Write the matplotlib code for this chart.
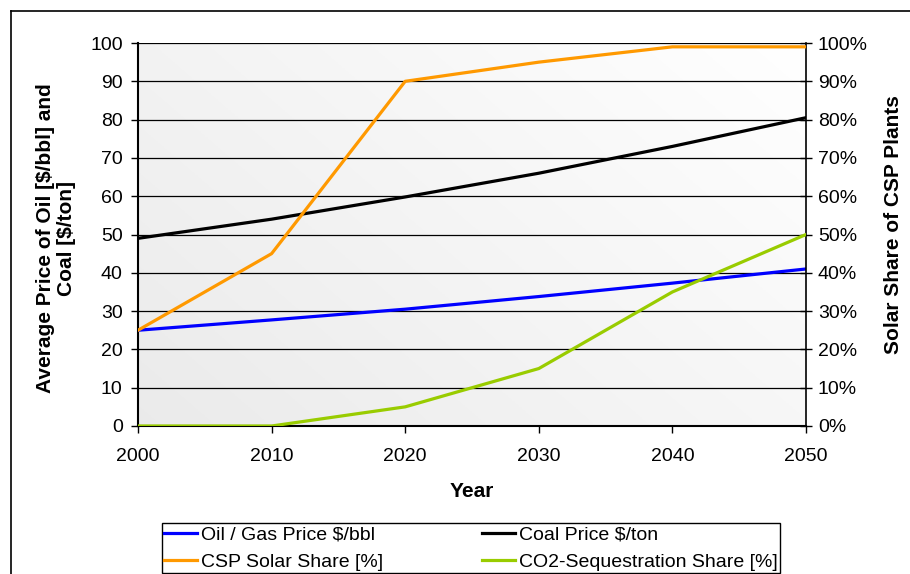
import matplotlib
matplotlib.use("Agg")
import matplotlib.pyplot as plt
import numpy as np
from matplotlib.lines import Line2D
from matplotlib.ticker import FuncFormatter

plt.rcParams['font.family'] = ['Liberation Sans', 'DejaVu Sans']

years = [2000, 2010, 2020, 2030, 2040, 2050]
oil_price = [25, 27.7, 30.5, 33.8, 37.3, 41]
coal_price = [49, 54, 59.8, 66, 73, 80.5]
csp_share = [25, 45, 90, 95, 99, 99]
co2_share = [0, 0, 5, 15, 35, 50]

labels = ["Oil / Gas Price $/bbl", "Coal Price $/ton",
          "CSP Solar Share [%]", "CO2-Sequestration Share [%]"]

W, H = 910, 574
FS = 14
LFS = 15
fig = plt.figure(figsize=(W / 100, H / 100), dpi=100)
ax = fig.add_axes([138 / W, 1 - 426 / H, 668 / W, 383 / H])

# gradient background
g = np.linspace(0, 1, 200)
gx, gy = np.meshgrid(g, g)
val = 0.92 + 0.08 * (0.6 * gx + 0.4 * gy)
ax.imshow(np.dstack([val, val, val]), extent=[0, 1, 0, 1], transform=ax.transAxes,
          aspect='auto', origin='lower', zorder=0)

ax.set_xlim(2000, 2050)
ax.set_ylim(0, 100)
ax.set_yticks(range(0, 101, 10))
ax.set_xticks(years)
for v in range(10, 101, 10):
    ax.axhline(v, color='black', lw=0.9, zorder=1)

l1, = ax.plot(years, oil_price, color='#0000ff', lw=2.3, zorder=3)
l2, = ax.plot(years, coal_price, color='black', lw=2.3, zorder=3)

ax2 = ax.twinx()
ax2.set_ylim(0, 100)
ax2.set_yticks(range(0, 101, 10))
ax2.yaxis.set_major_formatter(FuncFormatter(lambda v, p: f"{int(v)}%"))
l3, = ax2.plot(years, csp_share, color='#ff9900', lw=2.3, zorder=3)
l4, = ax2.plot(years, co2_share, color='#99cc00', lw=2.3, zorder=3)

for a in (ax, ax2):
    a.spines['top'].set_visible(False)
ax.spines['right'].set_visible(False)
ax.spines['left'].set_linewidth(1.5)
ax.spines['bottom'].set_linewidth(1.5)
ax2.spines['left'].set_visible(False)
ax2.spines['bottom'].set_visible(False)
ax2.spines['right'].set_linewidth(1.2)

ax.tick_params(axis='both', labelsize=FS, direction='out', length=5, width=1, colors='black')
ax.tick_params(axis='x', pad=11)
ax.tick_params(axis='y', pad=6)
ax2.tick_params(axis='y', labelsize=FS, direction='inout', length=9, width=1, pad=4)

ax.set_xlabel("Year", fontsize=LFS, fontweight='bold', labelpad=12)
ax.set_ylabel("Average Price of Oil [$/bbl] and\nCoal [$/ton]", fontsize=LFS,
              fontweight='bold', labelpad=10, linespacing=1.15)
ax.yaxis.label.set_y(0.49)
ax2.set_ylabel("Solar Share of CSP Plants", fontsize=LFS, fontweight='bold', labelpad=12)
ax2.yaxis.label.set_y(0.526)

leg = fig.legend([l1, l3, l2, l4], [labels[0], labels[2], labels[1], labels[3]],
                 ncol=2, loc='lower left',
                 bbox_to_anchor=(162 / W, 1 - 573 / H, 618 / W, 57 / H), mode='expand',
                 fontsize=FS, frameon=True, fancybox=False, edgecolor='black',
                 framealpha=1, handlelength=1.7, handletextpad=0.2,
                 labelspacing=0.5, borderaxespad=0, borderpad=0.12, columnspacing=0.5)
leg.get_frame().set_linewidth(1.0)

# figure border (partially visible)
fig.add_artist(Line2D([11 / W, 1], [1 - 11 / H, 1 - 11 / H], color='black', lw=1.2,
                      transform=fig.transFigure))
fig.add_artist(Line2D([11 / W, 11 / W], [0, 1 - 11 / H], color='black', lw=1.2,
                      transform=fig.transFigure))

fig.savefig("out.png", dpi=100)
